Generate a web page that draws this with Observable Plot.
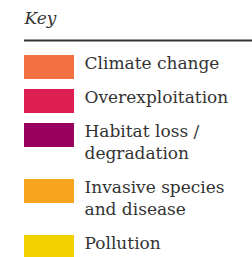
<!DOCTYPE html>
<html>
<head>
<meta charset="utf-8">
<script src="https://cdn.jsdelivr.net/npm/d3@7"></script>
<script src="https://cdn.jsdelivr.net/npm/@observablehq/plot@0.6"></script>
<style>
  html, body { margin: 0; padding: 0; background: #fff; }
</style>
</head>
<body>
<div id="chart"></div>
<script>
const title = "Key";
const categories = ["Climate change", "Overexploitation", "Habitat loss /\ndegradation", "Invasive species\nand disease", "Pollution"];
const colors = ["#F26F41", "#DC1E50", "#9A005E", "#F7A41F", "#F2D100"];

const W = 252, H = 257;
const left = 24, swW = 50, swH = 24, textGap = 10;
const firstTop = 55, rowStep = 34, lineH = 22;
const fs = 17;

let cursor = firstTop;
const rows = categories.map((c, i) => {
  const lines = c.split("\n").length;
  const r = {label: c, color: colors[i], y0: cursor};
  cursor += rowStep + lineH * (lines - 1);
  return r;
});

const chart = Plot.plot({
  width: W,
  height: H,
  margin: 0,
  x: {domain: [0, W], range: [0, W], axis: null},
  y: {domain: [0, H], range: [0, H], axis: null},
  style: {background: "#fff"},
  marks: [
    Plot.text([title], {
      x: () => left, y: () => 11, text: d => d,
      textAnchor: "start", lineAnchor: "top", fontFamily: "DejaVu Serif", fontStyle: "italic",
      fontSize: 17, fill: "#333"
    }),
    Plot.ruleY([40], {x1: left, x2: W, stroke: "#333", strokeWidth: 2}),
    Plot.rect(rows, {
      x1: () => left, x2: () => left + swW,
      y1: d => d.y0, y2: d => d.y0 + swH,
      fill: d => d.color
    }),
    Plot.text(rows, {
      x: () => left + swW + textGap, y: d => d.y0 - 2,
      text: d => d.label, lineAnchor: "top", lineHeight: lineH / fs,
      textAnchor: "start", fontFamily: "DejaVu Serif", fontSize: fs, fill: "#333"
    })
  ]
});
document.getElementById("chart").append(chart);
</script>
</body>
</html>
